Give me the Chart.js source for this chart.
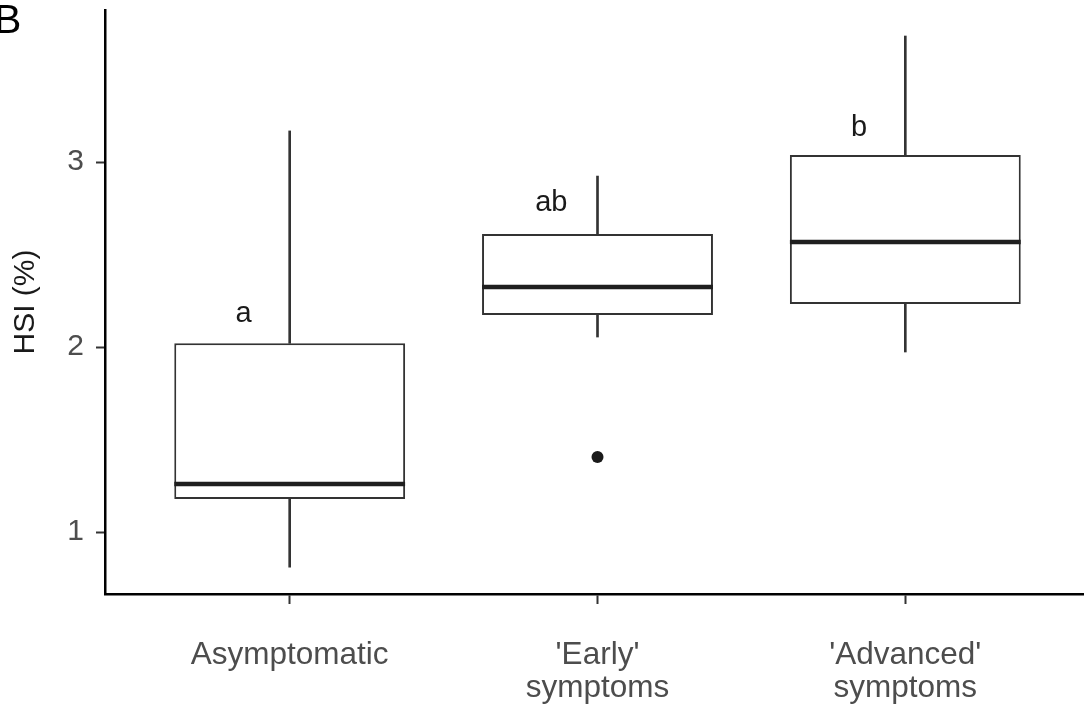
<!DOCTYPE html>
<html>
<head>
<meta charset="utf-8">
<script src="https://cdn.jsdelivr.net/npm/chart.js@4.4.1/dist/chart.umd.min.js"></script>
<style>
  html, body { margin: 0; padding: 0; background: #fff; overflow: hidden; }
  #wrap { width: 1090px; height: 705px; }
</style>
</head>
<body>
<div id="wrap"><canvas id="hsi" width="1090" height="705"></canvas></div>
<script>
// --- data ---
const categories = [['Asymptomatic'], ["'Early'", 'symptoms'], ["'Advanced'", 'symptoms']];
const whiskerLow  = [0.81, 2.054, 1.973];
const q1          = [1.178, 2.173, 2.232];
const median      = [1.26, 2.324, 2.568];
const q3          = [2.02, 2.611, 3.038];
const whiskerHigh = [3.168, 2.924, 3.681];

// outliers: group index (1-based) and value
const outlierGroup = [2];
const outlierValue = [1.405];

// significance letters
const letters = ['a', 'ab', 'b'];
const letterX = [0.85, 1.85, 2.85];
const letterY = [2.135, 2.737, 3.14];

const yTicks = [1, 2, 3];

const pos = categories.map((_, i) => i + 1);
const boxData = pos.map((x, i) => ({ x, y: [q1[i], q3[i]] }));
const upperWhisker = pos.map((x, i) => ({ x, y: [q3[i], whiskerHigh[i]] }));
const lowerWhisker = pos.map((x, i) => ({ x, y: [whiskerLow[i], q1[i]] }));
const medianData = pos.map((x, i) => ({ x, y: median[i] }));
const outlierData = outlierGroup.map((g, i) => ({ x: g, y: outlierValue[i] }));

const FONT = '"Liberation Sans", Arial, Helvetica, sans-serif';

// letters above boxes + panel tag
const annotatePlugin = {
    id: 'annotate',
    afterDatasetsDraw(chart) {
        const { ctx, scales: { x, y } } = chart;
        ctx.save();
        ctx.fillStyle = '#1a1a1a';
        ctx.font = `29px ${FONT}`;
        ctx.textAlign = 'center';
        ctx.textBaseline = 'alphabetic';
        letters.forEach((t, i) => {
            ctx.fillText(t, x.getPixelForValue(letterX[i]), y.getPixelForValue(letterY[i]));
        });
        // panel tag
        ctx.fillStyle = '#000';
        ctx.font = `41px ${FONT}`;
        ctx.textAlign = 'left';
        ctx.fillText('B', -6, 33);
        ctx.restore();
    }
};

new Chart(document.getElementById('hsi'), {
    type: 'bar',
    data: {
        datasets: [
            {
                type: 'scatter', data: medianData,
                pointStyle: 'line', pointRadius: 115.4, pointHoverRadius: 115.4,
                borderColor: '#1f1f1f', borderWidth: 4.5, pointBorderWidth: 4.5
            },
            {
                type: 'scatter', data: outlierData,
                pointRadius: 6, pointHoverRadius: 6,
                backgroundColor: '#1a1a1a', borderColor: '#1a1a1a', borderWidth: 0
            },
            {
                data: boxData, grouped: false,
                categoryPercentage: 1, barPercentage: 0.75,
                backgroundColor: '#fff', borderColor: '#333', borderWidth: 2, borderSkipped: false
            },
            {
                data: upperWhisker, grouped: false, barThickness: 2,
                backgroundColor: '#333', borderWidth: 0
            },
            {
                data: lowerWhisker, grouped: false, barThickness: 2,
                backgroundColor: '#333', borderWidth: 0
            }
        ]
    },
    options: {
        responsive: false,
        animation: false,
        events: [],
        layout: { autoPadding: false, padding: { top: 10, left: 0, right: 0, bottom: 0 } },
        plugins: { legend: { display: false }, tooltip: { enabled: false } },
        scales: {
            x: {
                type: 'linear', position: 'bottom',
                min: 0.4, max: 3.6, offset: false,
                afterBuildTicks: s => { s.ticks = pos.map(v => ({ value: v })); },
                afterFit: s => { s.height = 111; s.paddingLeft = 0; s.paddingRight = 0; },
                grid: { drawOnChartArea: false, offset: false, tickLength: 10, tickWidth: 2, tickColor: '#333' },
                border: { display: true, color: '#000', width: 2.5 },
                ticks: {
                    autoSkip: false, maxRotation: 0, padding: 35,
                    color: '#4d4d4d',
                    font: { family: FONT, size: 31.5, lineHeight: 1.05 },
                    callback: v => categories[v - 1] || ''
                }
            },
            y: {
                type: 'linear',
                min: 0.665, max: 3.8216,
                afterBuildTicks: s => { s.ticks = yTicks.map(v => ({ value: v })); },
                afterFit: s => { s.width = 105; s.paddingTop = 0; s.paddingBottom = 0; },
                grid: { drawOnChartArea: false, tickLength: 9, tickWidth: 2, tickColor: '#333' },
                border: { display: true, color: '#000', width: 2.5 },
                ticks: {
                    padding: 12, color: '#4d4d4d',
                    font: { family: FONT, size: 30 }
                },
                title: {
                    display: true, text: 'HSI (%)', color: '#1a1a1a',
                    font: { family: FONT, size: 30 },
                    padding: { top: 8, bottom: 0 }
                }
            }
        }
    },
    plugins: [annotatePlugin]
});
</script>
</body>
</html>
